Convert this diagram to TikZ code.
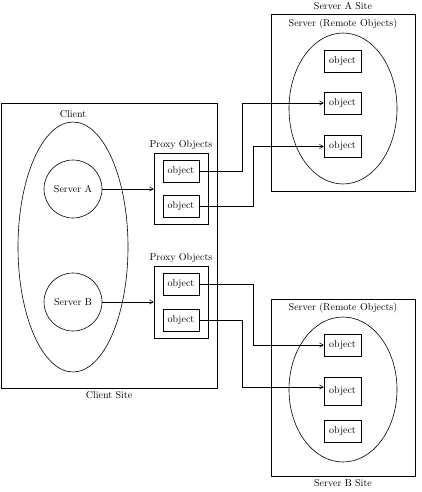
\documentclass[tikz,border=0pt]{standalone}
\usepackage{tikz}
\usetikzlibrary{arrows,shapes.geometric}

\begin{document}
\begin{tikzpicture}[x=1pt,y=-1pt,line width=0.6pt,>=angle 60,
        site/.style={rectangle,draw,inner sep=0pt},
        proc node/.style={circle,draw,minimum size=58pt,inner sep=0pt},
        space node/.style={ellipse,draw,inner sep=0pt},
        obj node/.style={rectangle,draw,minimum width=36pt,minimum height=22pt,inner sep=0pt}]

        \useasboundingbox (0,0) rectangle (422,492);

        % client side
        \node[site] [minimum width=216pt,minimum height=285pt,label={below:Client Site}] (client) at (109,245.5) {};
        \node[space node] [minimum width=110pt,minimum height=250pt,label={above:Client}] (cspace) at (73,247) {};
        \node[proc node] (srva) at (73,189) {Server A};
        \node[proc node] (srvb) at (73,302) {Server B};

        \node[site] [minimum width=54pt,minimum height=71pt,label={above:Proxy Objects}] (proxa) at (181,189) {};
        \node[site] [minimum width=54pt,minimum height=72pt,label={above:Proxy Objects}] (proxb) at (181,302) {};
        \node[obj node] (pa1) at (181,171) {object};
        \node[obj node] (pa2) at (181,206.5) {object};
        \node[obj node] (pb1) at (181,284.5) {object};
        \node[obj node] (pb2) at (181,320) {object};

        % server A side
        \node[site] [minimum width=144pt,minimum height=177pt,label={above:Server A Site}] (sitea) at (343,102.5) {};
        \node[space node] [minimum width=108pt,minimum height=151pt,label={above:Server (Remote Objects)}] (spacea) at (343,108.5) {};
        \node[obj node] [minimum width=37pt] (sa1) at (342.5,61) {object};
        \node[obj node] [minimum width=37pt] (sa2) at (342.5,103) {object};
        \node[obj node] [minimum width=37pt] (sa3) at (342.5,146.5) {object};

        % server B side
        \node[site] [minimum width=144pt,minimum height=177pt,label={below:Server B Site}] (siteb) at (343,387.5) {};
        \node[space node] [minimum width=108pt,minimum height=145pt,label={above:Server (Remote Objects)}] (spaceb) at (343,389.5) {};
        \node[obj node] [minimum width=37pt] (sb1) at (342.5,345) {object};
        \node[obj node] [minimum width=37pt,minimum height=28pt] (sb2) at (342.5,391) {object};
        \node[obj node] [minimum width=37pt] (sb3) at (342.5,431.5) {object};

        \path[->]
        (srva) edge (proxa)
        (srvb) edge (proxb);

        \draw[->] (pa1.east) -- ++(43,0) |- (sa2.west);
        \draw[->] (pa2.east) -- ++(54,0) |- (sa3.west);
        \draw[->] (pb1.east) -- ++(54,0) |- (sb1.west);
        \draw[->] (pb2.east) -- ++(43,0) |- ([yshift=4pt]sb2.west);
    \end{tikzpicture}
\end{document}
